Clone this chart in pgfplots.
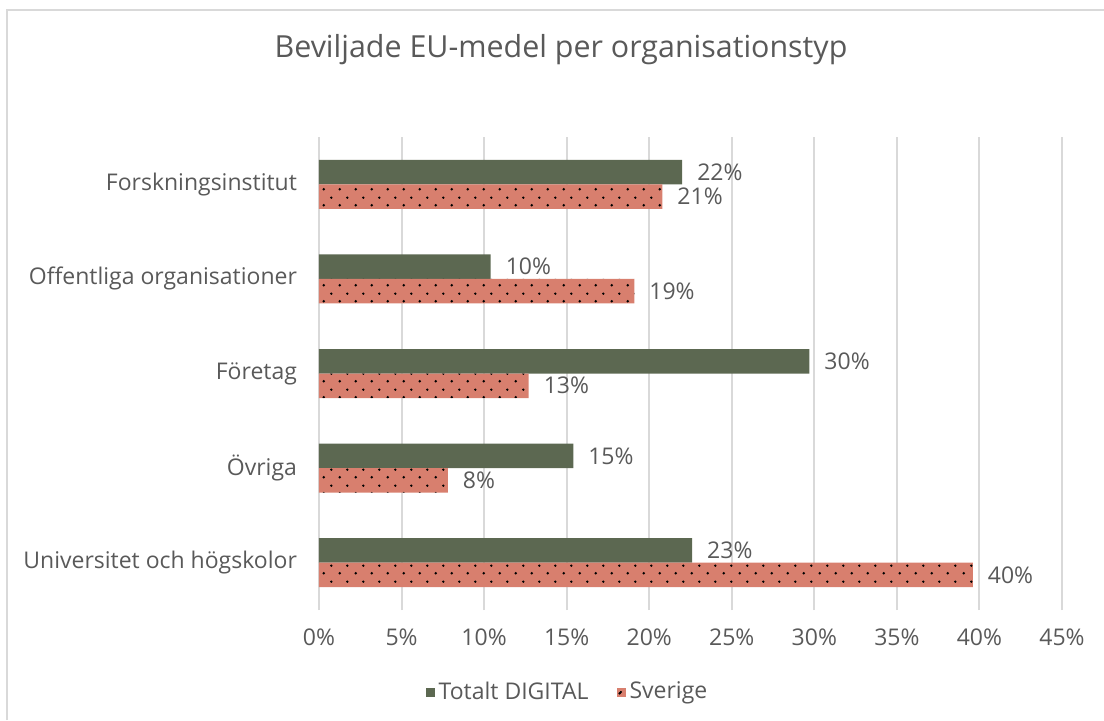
\documentclass[border=0pt]{standalone}
\usepackage{fontspec}
\setmainfont{Open Sans}
\usepackage{pgfplots}
\pgfplotsset{compat=1.18}
\usetikzlibrary{patterns.meta}

\definecolor{digital}{HTML}{5C6851}
\definecolor{sverige}{HTML}{D87F6E}
\definecolor{txt}{HTML}{595959}
\definecolor{gridc}{HTML}{D9D9D9}

% sparse dots on the Sverige bars
\tikzdeclarepattern{
  name=sparsedots,
  type=uncolored,
  bounding box={(0pt,0pt) and (8pt,8pt)},
  tile size={(8pt,8pt)},
  code={
    \fill (2pt,2pt) circle (0.7pt);
    \fill (6pt,6pt) circle (0.7pt);
  }
}

\pgfplotstableread{
y  digital sverige
0  22.6    39.6
1  15.4    7.8
2  29.7    12.7
3  10.4    19.1
4  22.0    20.8
}\datatable

\begin{document}
\begin{tikzpicture}
\path[use as bounding box] (0,0) rectangle (552pt,360pt);
\draw[gridc, line width=1pt] (3.5pt,0) -- (3.5pt,355pt) -- (552pt,355pt);
\node[txt, font=\fontsize{15.2}{18}\selectfont] at (280.5pt,335pt) {Beviljade EU-medel per organisationstyp};

\begin{axis}[
    at={(159.5pt,55pt)}, anchor=south west,
    scale only axis, width=371.5pt, height=236.5pt,
    xbar, bar width=12.25pt,
    xmin=0, xmax=45, ymin=-0.5, ymax=4.5,
    xtick={0,5,...,45}, ytick={0,...,4},
    yticklabels={Universitet och högskolor, Övriga, Företag, Offentliga organisationer, Forskningsinstitut},
    xticklabel={\pgfmathprintnumber{\tick}\%},
    /pgf/number format/assume math mode=true,
    xmajorgrids, major grid style={gridc, line width=1pt},
    axis line style={draw=none},
    major tick length=0pt,
    tick label style={txt, font=\fontsize{11.5}{13}\selectfont},
    xticklabel style={yshift=-6pt},
    yticklabel style={xshift=-7.5pt},
    nodes near coords={\pgfmathprintnumber[fixed,precision=0]{\pgfplotspointmeta}\%},
    nodes near coords style={txt, font=\fontsize{11.5}{13}\selectfont, xshift=4pt},
    legend columns=2,
    legend style={at={(axis description cs:0.5,0)}, anchor=center,
        xshift=-61pt, yshift=-41pt, draw=none, fill=none,
        font=\fontsize{11.5}{13}\selectfont, text=txt,
        /tikz/every even column/.append style={column sep=12pt}},
]
\addplot[fill=digital, draw=none, bar shift=6.125pt,
    legend image code/.code={\fill[digital] (0pt,-2.25pt) rectangle (4.5pt,2.25pt);}]
    table[x=digital, y=y] {\datatable};
\addlegendentry{Totalt DIGITAL}
\addplot[fill=sverige, draw=none, bar shift=-6.125pt,
    postaction={pattern=sparsedots, pattern color=black},
    legend image code/.code={\fill[sverige] (0pt,-2.25pt) rectangle (4.5pt,2.25pt);
        \fill[black] (2.25pt,0pt) circle (0.55pt);}]
    table[x=sverige, y=y] {\datatable};
\addlegendentry{Sverige}
\end{axis}
\end{tikzpicture}
\end{document}
